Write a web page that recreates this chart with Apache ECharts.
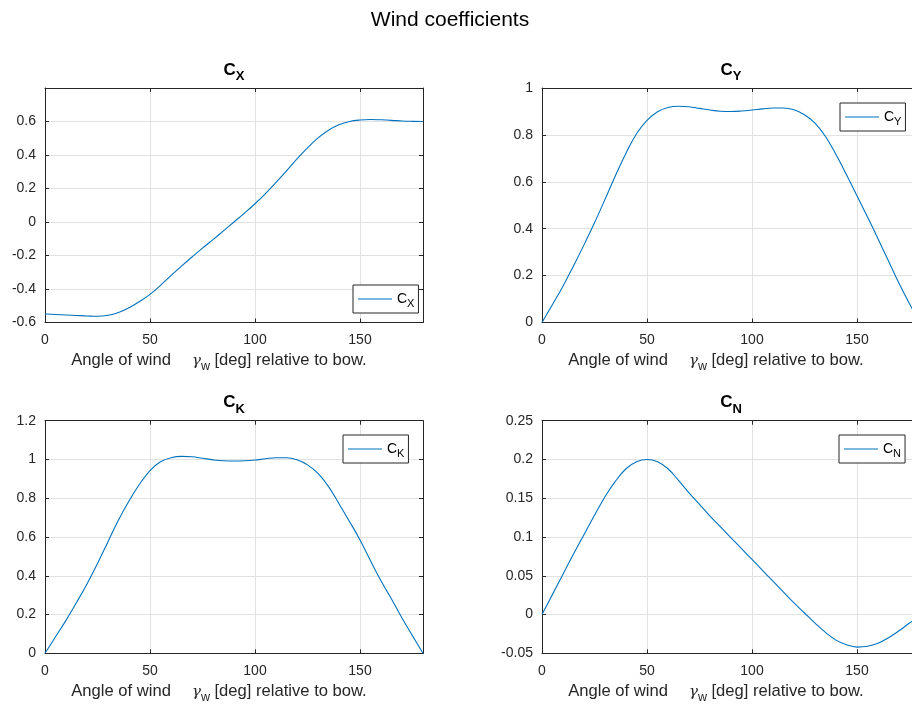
<!DOCTYPE html>
<html><head><meta charset="utf-8">
<script src="https://cdn.jsdelivr.net/npm/echarts@6/dist/echarts.min.js"></script>
<style>html,body{margin:0;padding:0;background:#fff}#c{width:912px;height:706px}</style>
</head><body><div id="c"></div><script>
// ---- data ----
const angles = [0,5,10,15,20,25,30,35,40,45,50,55,60,65,70,75,80,85,90,95,100,105,110,115,120,125,130,135,140,145,150,155,160,165,170,175,180];
const cX = [-0.549,-0.552,-0.555,-0.558,-0.561,-0.563,-0.557,-0.540,-0.512,-0.475,-0.432,-0.378,-0.320,-0.263,-0.209,-0.156,-0.105,-0.053,0.0,0.053,0.109,0.170,0.236,0.305,0.377,0.443,0.502,0.548,0.580,0.600,0.609,0.612,0.610,0.607,0.603,0.601,0.600];
const cY = [0,0.077,0.155,0.241,0.331,0.425,0.525,0.627,0.722,0.805,0.862,0.899,0.917,0.922,0.920,0.913,0.906,0.901,0.900,0.902,0.906,0.911,0.915,0.915,0.907,0.886,0.850,0.793,0.716,0.630,0.540,0.450,0.357,0.262,0.167,0.080,0.0];
const cK = [0,0.085,0.170,0.262,0.358,0.463,0.576,0.688,0.786,0.872,0.943,0.988,1.009,1.016,1.014,1.006,0.998,0.993,0.992,0.993,0.997,1.004,1.009,1.009,0.998,0.972,0.928,0.860,0.772,0.680,0.585,0.478,0.374,0.280,0.182,0.090,0];
const cN = [0,0.026,0.052,0.078,0.103,0.128,0.152,0.172,0.188,0.197,0.200,0.197,0.188,0.173,0.157,0.142,0.127,0.113,0.099,0.085,0.071,0.057,0.043,0.029,0.015,0.002,-0.011,-0.023,-0.033,-0.039,-0.042,-0.041,-0.037,-0.030,-0.021,-0.011,-0.002];
const seriesNames = ['CX','CY','CK','CN'];
const subscripts = ['X','Y','K','N'];
const yMin = [-0.6, 0, 0, -0.05];
const yMax = [0.8, 1, 1.2, 0.25];
const yStep = [0.2, 0.2, 0.2, 0.05];
const xMin = 0, xMax = 180, xStep = 50;
const mainTitle = 'Wind coefficients';
const xLabelParts = ['Angle of wind', 'γ', 'w', ' [deg] relative to bow.'];

// ---- layout / style ----
const FONT = '"Liberation Sans", Arial, Helvetica, sans-serif';
const AX = '#262626';
const LINE = '#0072BD';
const GRIDC = '#e2e2e2';
const grids = [
  {left:45, top:88, width:378, height:234.5},
  {left:542, top:88, width:378, height:234.5},
  {left:45, top:420.7, width:378, height:232.6},
  {left:542, top:420.7, width:378, height:232.6}
];
const legendPos = [[353,285],[840,103],[343,435],[839,435]];
const values = [cX, cY, cK, cN];

const chart = echarts.init(document.getElementById('c'), null, {renderer:'canvas'});

const xAxes = [], yAxes = [], series = [], titles = [], legends = [];
titles.push({text: mainTitle, left: 450, top: 10, textAlign: 'center', padding: 0,
  textStyle: {fontFamily: FONT, fontSize: 21, fontWeight: 'normal', color: '#000'}});

grids.forEach((g, i) => {
  const lineStyle = {color: AX, width: 1};
  xAxes.push({
    type: 'value', gridIndex: i, position: 'bottom', min: xMin, max: xMax, interval: xStep,
    axisLine: {show: true, onZero: false, lineStyle},
    axisTick: {show: true, inside: true, length: 4, lineStyle},
    axisLabel: {show: true, margin: 11, showMaxLabel: false, color: AX, fontFamily: FONT, fontSize: 14},
    splitLine: {show: true, lineStyle: {color: GRIDC, width: 1}},
    name: '{n|' + xLabelParts[0] + '}{sp| }{g|' + xLabelParts[1] + '}{w|' + xLabelParts[2] + '}{n|' + xLabelParts[3] + '}',
    nameLocation: 'middle', nameGap: 27,
    nameTextStyle: {
      color: AX, fontFamily: FONT, fontSize: 16.6, padding: [0, 30, 0, 0],
      rich: {
        n: {fontFamily: FONT, fontSize: 16.6, color: AX, lineHeight: 18},
        sp: {width: 21, fontSize: 16, lineHeight: 18},
        g: {fontFamily: '"DejaVu Serif", "Liberation Serif", serif', fontStyle: 'italic', fontSize: 15, color: AX, lineHeight: 18},
        w: {fontFamily: FONT, fontSize: 12.5, color: AX, lineHeight: 14, padding: [12, 0, 0, 0]}
      }
    }
  });
  xAxes.push({
    type: 'value', gridIndex: i, position: 'top', min: xMin, max: xMax, interval: xStep,
    axisLine: {show: true, onZero: false, lineStyle},
    axisTick: {show: true, inside: true, length: 4, lineStyle},
    axisLabel: {show: false}, splitLine: {show: false}
  });
  yAxes.push({
    type: 'value', gridIndex: i, position: 'left', min: yMin[i], max: yMax[i], interval: yStep[i],
    axisLine: {show: true, onZero: false, lineStyle},
    axisTick: {show: true, inside: true, length: 4, lineStyle},
    axisLabel: {show: true, margin: 9, showMaxLabel: i !== 0, color: AX, fontFamily: FONT, fontSize: 14},
    splitLine: {show: true, lineStyle: {color: GRIDC, width: 1}}
  });
  yAxes.push({
    type: 'value', gridIndex: i, position: 'right', min: yMin[i], max: yMax[i], interval: yStep[i],
    axisLine: {show: true, onZero: false, lineStyle},
    axisTick: {show: true, inside: true, length: 4, lineStyle},
    axisLabel: {show: false}, splitLine: {show: false}
  });
  series.push({
    name: seriesNames[i], type: 'line', xAxisIndex: 2*i, yAxisIndex: 2*i,
    data: angles.map((a, k) => [a, values[i][k]]),
    showSymbol: false, symbol: 'none', smooth: 0.4,
    lineStyle: {color: LINE, width: 1.1}, itemStyle: {color: LINE},
    emphasis: {disabled: true}, animation: false, z: 3
  });
  titles.push({
    text: '{c|C}{s|' + subscripts[i] + '}',
    left: g.left + g.width / 2, top: g.top - 27, textAlign: 'center', padding: 0,
    textStyle: {
      rich: {
        c: {fontFamily: FONT, fontSize: 17, fontWeight: 'bold', color: '#000', lineHeight: 18},
        s: {fontFamily: FONT, fontSize: 13, fontWeight: 'bold', color: '#000', lineHeight: 14, padding: [13, 0, 0, 0]}
      }
    }
  });
  legends.push({
    data: [seriesNames[i]], left: legendPos[i][0], top: legendPos[i][1],
    orient: 'vertical', padding: [4, 4, 4, 5], itemWidth: 34, itemHeight: 1, itemGap: 0,
    icon: 'rect', borderColor: AX, borderWidth: 1, borderRadius: 0, backgroundColor: '#fff',
    selectedMode: false,
    formatter: () => '{c|C}{s|' + subscripts[i] + '}',
    textStyle: {
      rich: {
        c: {fontFamily: FONT, fontSize: 14, color: '#000', lineHeight: 15},
        s: {fontFamily: FONT, fontSize: 11, color: '#000', lineHeight: 12, padding: [9, 0, 0, 0]}
      }
    }
  });
});

chart.setOption({
  animation: false,
  backgroundColor: '#fff',
  title: titles,
  legend: legends,
  grid: grids.map(g => Object.assign({containLabel: false, outerBoundsMode: 'none'}, g)),
  xAxis: xAxes,
  yAxis: yAxes,
  series: series
});
</script></body></html>
